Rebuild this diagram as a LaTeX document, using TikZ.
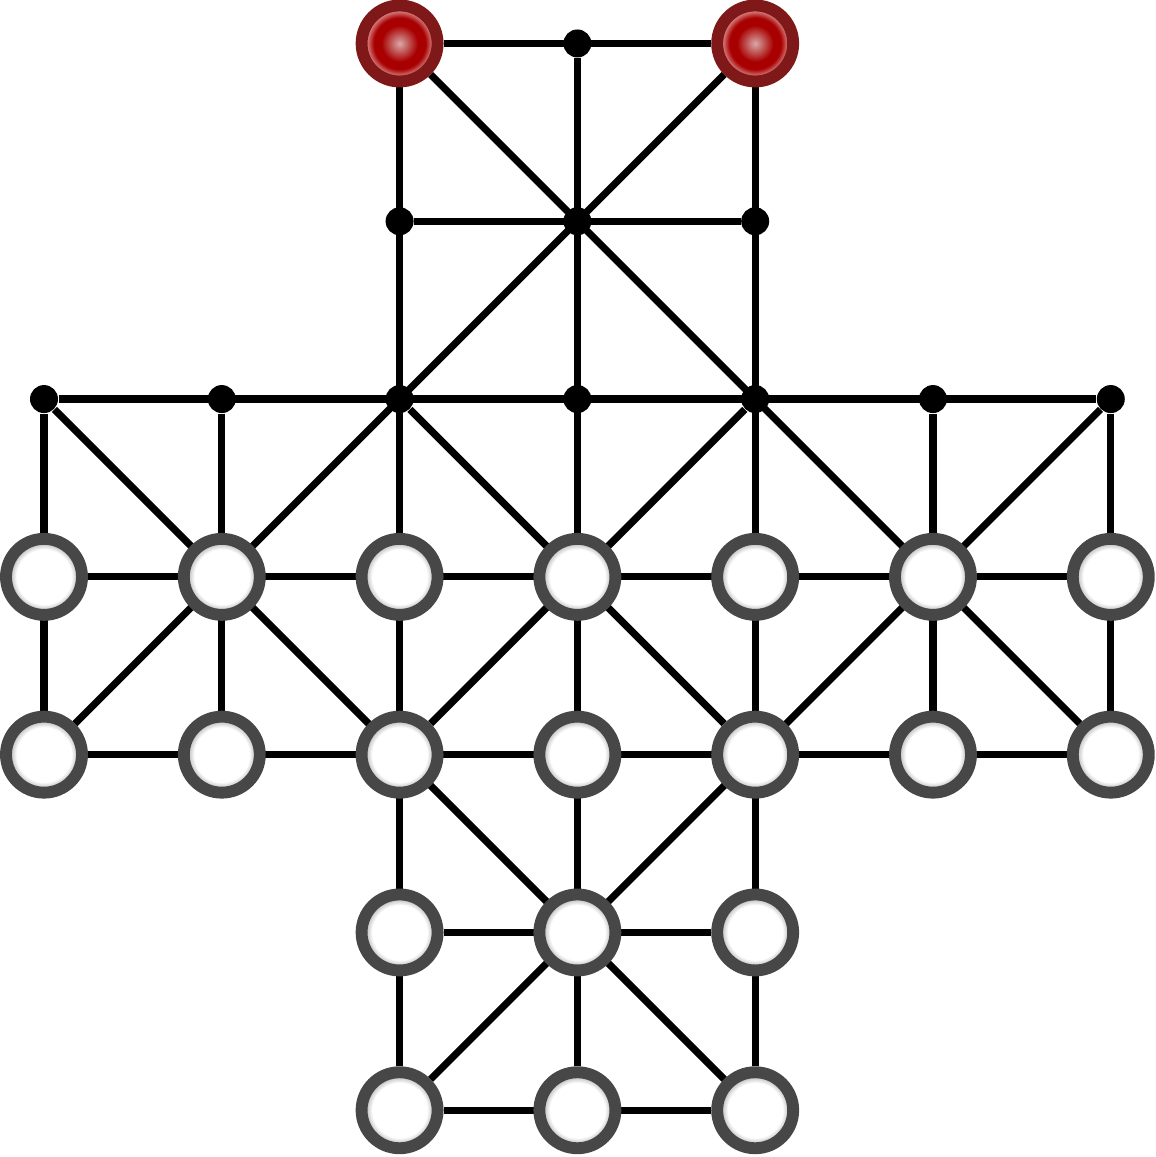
\documentclass[tikz,border=0pt]{standalone}
\usepackage[dvipsnames]{xcolor}
\usepackage{tikz}
\usetikzlibrary{backgrounds}
\definecolor{rimgray}{HTML}{474747}
\definecolor{foxring}{HTML}{7F1818}
\definecolor{foxred}{HTML}{A80000}
\definecolor{foxhi}{HTML}{D9A8A8}
\definecolor{foxedge}{HTML}{D88080}
\pgfdeclareradialshading{goosefill}{\pgfpoint{0bp}{0bp}}{color(0bp)=(white); color(18bp)=(white); color(21.5bp)=(black!22); color(25bp)=(black!22); color(50bp)=(black!22)}
\pgfdeclareradialshading{foxfill}{\pgfpoint{0bp}{0bp}}{color(0bp)=(foxhi); color(12bp)=(foxred); color(17bp)=(foxred); color(21.5bp)=(foxedge); color(25bp)=(foxedge); color(50bp)=(foxedge)}
\tikzset{
  rail/.style={draw, line width=2.3pt},
  knot/.style={circle, fill=black, inner sep=0pt, minimum size=3.15mm},
  goose/.style={circle, draw=rimgray, line width=3.8pt, inner sep=0pt, minimum size=8.55mm, shading=goosefill, shade},
  fox/.style={circle, draw=foxring, line width=3.8pt, inner sep=0pt, minimum size=8.55mm, shading=foxfill, shade}
}

\begin{document}
\begin{tikzpicture}
\useasboundingbox (-0.495,0.489) rectangle (12.508,-12.526);
\foreach \c/\r in {3/0, 2/1, 3/1, 4/1, 0/2, 1/2, 2/2, 3/2, 4/2, 5/2, 6/2}
  \node[knot] (p\c\r) at (2*\c,-2*\r) {};
\node[fox] (p20) at (4,0) {};
\node[fox] (p40) at (8,0) {};
\foreach \r in {3,4}
  \foreach \c in {0,...,6}
    \node[goose] (p\c\r) at (2*\c,-2*\r) {};
\foreach \r in {5,6}
  \foreach \c in {2,3,4}
    \node[goose] (p\c\r) at (2*\c,-2*\r) {};
\begin{pgfonlayer}{background}
\foreach \a/\b in {p20/p40, p21/p41, p02/p62, p03/p63, p04/p64, p25/p45, p26/p46,
    p02/p04, p12/p14, p20/p26, p30/p36, p40/p46, p52/p54, p62/p64,
    p20/p64, p40/p04, p02/p46, p62/p26, p22/p44, p42/p24}
  \draw[rail] (\a) -- (\b);
\end{pgfonlayer}
\end{tikzpicture}
\end{document}
